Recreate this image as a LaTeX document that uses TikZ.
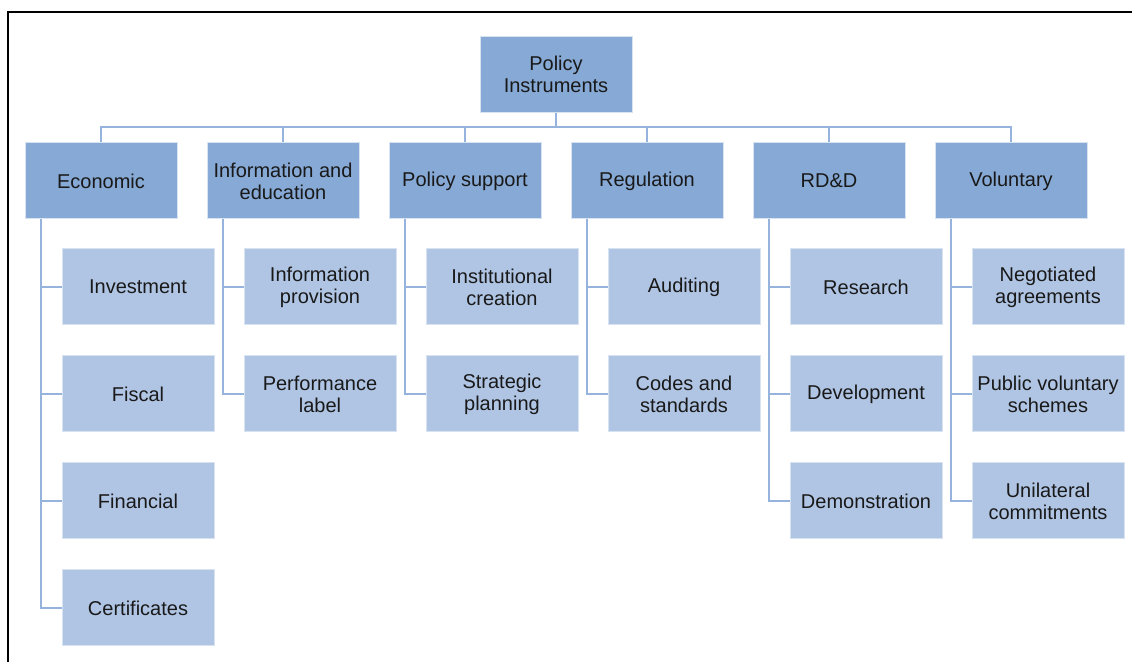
\documentclass[tikz,border=0pt]{standalone}
\usepackage{fontspec}
\setmainfont{Liberation Sans}
\definecolor{topblue}{HTML}{86A9D5}
\definecolor{subblue}{HTML}{B0C5E4}
\definecolor{linkblue}{HTML}{95B3DC}
\definecolor{rimblue}{HTML}{D8E3F2}

\begin{document}
\begin{tikzpicture}[x=0.5pt,y=-0.5pt]
  \tikzset{catbox/.style={fill=topblue,draw=rimblue,line width=0.5pt,minimum width=76pt,minimum height=38pt,
      inner sep=1pt,align=center,text=black!90,font=\fontsize{10}{11}\selectfont},
    itembox/.style={catbox,fill=subblue},
    link/.style={draw=linkblue,line width=1.2pt}}
  \useasboundingbox (0,0) rectangle (1132,662);
  \draw[line width=0.6pt] (8,662) |- (1132,12);
  \node[catbox] (root) at (556,74.5) {Policy\\Instruments};
  \foreach \name/\label [count=\i from 0] in {econ/Economic, info/{Information and\\education},
      supp/Policy support, regu/Regulation, rdd/RD\&D, volu/Voluntary}{
    \node[catbox] (\name) at ({101+182*\i},181) {\label};
    \draw[link] (root.south) -- ++(0,14) -| (\name.north);
  }
  \node[itembox] (econ1) at (138,287) {Investment};
  \node[itembox] (econ2) at (138,394) {Fiscal};
  \node[itembox] (econ3) at (138,501) {Financial};
  \node[itembox] (econ4) at (138,608) {Certificates};
  \node[itembox] (info1) at (320,287) {Information\\provision};
  \node[itembox] (info2) at (320,394) {Performance\\label};
  \node[itembox] (supp1) at (502,287) {Institutional\\creation};
  \node[itembox] (supp2) at (502,394) {Strategic\\planning};
  \node[itembox] (regu1) at (684,287) {Auditing};
  \node[itembox] (regu2) at (684,394) {Codes and\\standards};
  \node[itembox] (rdd1) at (866,287) {Research};
  \node[itembox] (rdd2) at (866,394) {Development};
  \node[itembox] (rdd3) at (866,501) {Demonstration};
  \node[itembox] (volu1) at (1048,287) {Negotiated\\agreements};
  \node[itembox] (volu2) at (1048,394) {Public voluntary\\schemes};
  \node[itembox] (volu3) at (1048,501) {Unilateral\\commitments};
  \foreach \p/\c in {econ/econ1, econ/econ2, econ/econ3, econ/econ4, info/info1, info/info2,
      supp/supp1, supp/supp2, regu/regu1, regu/regu2, rdd/rdd1, rdd/rdd2, rdd/rdd3,
      volu/volu1, volu/volu2, volu/volu3}
    \draw[link] ([xshift=-30pt]\p.south) |- (\c.west);
\end{tikzpicture}
\end{document}
